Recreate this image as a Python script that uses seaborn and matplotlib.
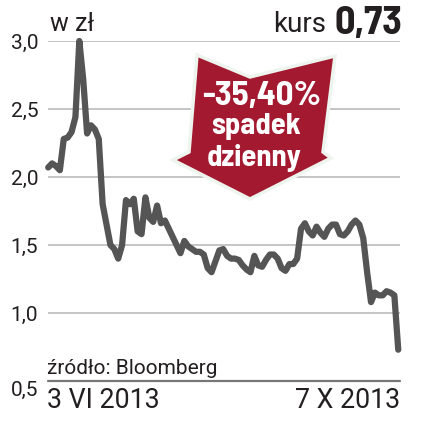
import matplotlib
matplotlib.use("Agg")
import matplotlib.pyplot as plt
import seaborn as sns
import pandas as pd
from matplotlib.patches import Polygon

# daily closing price, zl (trading days 3 VI 2013 - 7 X 2013)
prices = [2.07, 2.10, 2.08, 2.05, 2.28, 2.29, 2.33, 2.44, 3.00, 2.72,
          2.32, 2.38, 2.35, 2.28, 1.80, 1.65, 1.50, 1.47, 1.40, 1.50,
          1.83, 1.80, 1.84, 1.60, 1.58, 1.85, 1.70, 1.67, 1.79, 1.66,
          1.68, 1.62, 1.56, 1.50, 1.44, 1.53, 1.49, 1.47, 1.45, 1.45,
          1.43, 1.33, 1.30, 1.38, 1.46, 1.47, 1.42, 1.40, 1.40, 1.39,
          1.35, 1.32, 1.30, 1.42, 1.35, 1.34, 1.39, 1.43, 1.43, 1.40,
          1.33, 1.31, 1.36, 1.36, 1.40, 1.62, 1.66, 1.60, 1.57, 1.635,
          1.59, 1.56, 1.62, 1.65, 1.65, 1.58, 1.57, 1.60, 1.65, 1.68,
          1.65, 1.55, 1.30, 1.08, 1.15, 1.13, 1.13, 1.16, 1.15, 1.13,
          0.73]
y_ticks = [0.5, 1.0, 1.5, 2.0, 2.5, 3.0]
y_labels = ["0,5", "1,0", "1,5", "2,0", "2,5", "3,0"]
first_label = "3 VI 2013"
last_label = "7 X 2013"
last_price = "0,73"
change = "-35,40%"

df = pd.DataFrame({"day": range(len(prices)), "price": prices})

sns.set_style("white")
plt.rcParams['font.family'] = ['Roboto', 'DejaVu Sans']
bold_font = ['Barlow Semi Condensed', 'DejaVu Sans']
ink = "#231f20"

fig = plt.figure(figsize=(4.3, 4.21), dpi=100)
ax = fig.add_axes([48 / 430, 1 - 381 / 421, 352 / 430, 340 / 421])

sns.lineplot(data=df, x="day", y="price", ax=ax, color="#555555",
             linewidth=4.5, clip_on=False, zorder=3)

ax.set_ylim(0.5, 3.0)
ax.set_xlim(-0.05, len(prices) - 0.55)
ax.set_yticks(y_ticks)
ax.set_yticklabels(y_labels, fontsize=15, color=ink)
ax.set_xticks([])
ax.set_xlabel("")
ax.set_ylabel("")
ax.tick_params(axis="y", length=0, pad=7)
for t in ax.get_yticklabels():
    if t.get_text() == "0,5":
        t.set_va("top")
for y in y_ticks[1:]:
    ax.axhline(y, color="#b4b4b4", linewidth=1.1, zorder=1)
ax.axhline(0.5, color="#777777", linewidth=1.6, zorder=1, clip_on=False)
for s in ax.spines.values():
    s.set_visible(False)

# header texts
fig.text(50 / 430, 1 - 24 / 421, "w zł", fontsize=18, color=ink, va="center")
fig.text(326 / 430, 1 - 24 / 421, "kurs", fontsize=20, color=ink,
         va="center", ha="right")
fig.text(402 / 430, 1 - 23 / 421, last_price, fontsize=29, fontweight="bold",
         color=ink, va="center", ha="right", family=bold_font)

# footer texts
fig.text(47 / 430, 1 - 369 / 421, "źródło: Bloomberg", fontsize=15,
         color=ink, va="center")
fig.text(47 / 430, 1 - 401 / 421, first_label, fontsize=19.3, color=ink,
         va="center")
fig.text(400 / 430, 1 - 401 / 421, last_label, fontsize=19.3, color=ink,
         va="center", ha="right")

# red arrow badge
badge_px = [(197, 55), (250, 77), (335, 56), (323, 152), (331, 158),
            (250, 199), (173, 160), (189, 152)]
badge = Polygon([(x / 430, 1 - y / 421) for x, y in badge_px], closed=True,
                transform=fig.transFigure, facecolor="#a3192f",
                edgecolor="#eef4ee", linewidth=2.5, zorder=5)
fig.patches.append(badge)
fig.text(262 / 430, 1 - 96 / 421, change, fontsize=25, fontweight="bold",
         color="white", ha="center", va="center", zorder=6, family=bold_font)
fig.text(256 / 430, 1 - 127 / 421, "spadek", fontsize=22, fontweight="bold",
         color="white", ha="center", va="center", zorder=6, family=bold_font)
fig.text(254 / 430, 1 - 158 / 421, "dzienny", fontsize=22, fontweight="bold",
         color="white", ha="center", va="center", zorder=6, family=bold_font)

fig.savefig("out.png", dpi=100)
